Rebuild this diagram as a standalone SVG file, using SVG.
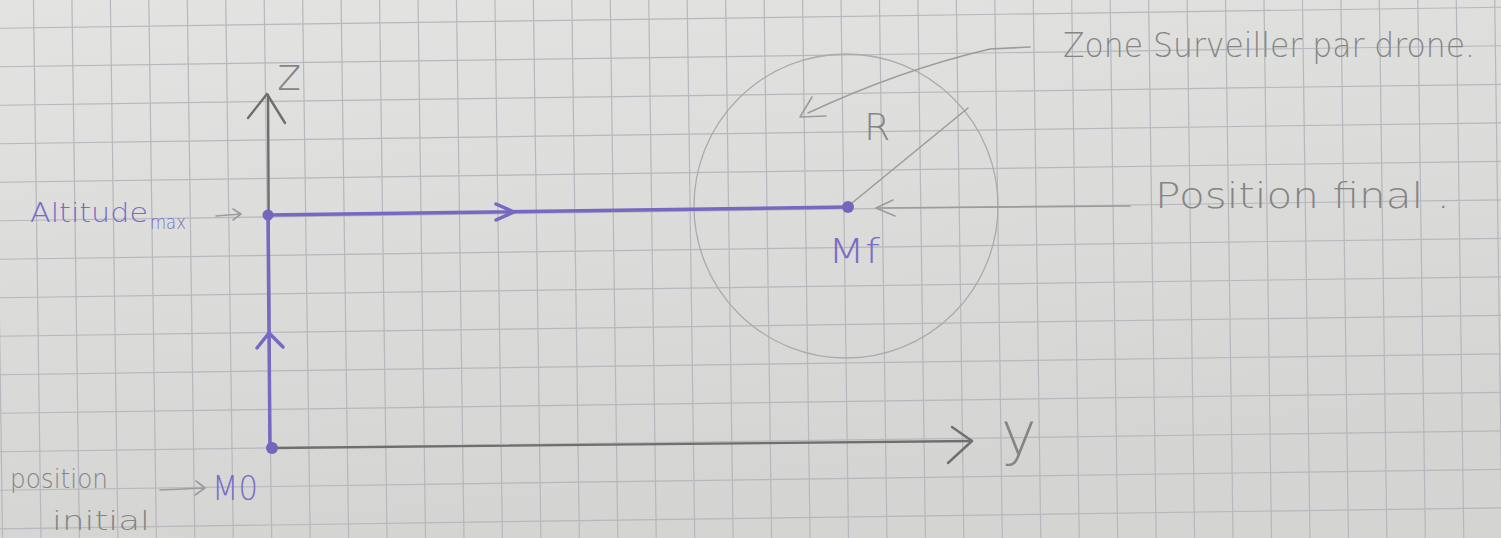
<svg xmlns="http://www.w3.org/2000/svg" width="1501" height="538" viewBox="0 0 1501 538">
<style>
.grid line{stroke:#b7b7bd;stroke-width:1.2}
.pencil{fill:none;stroke:#6f6f6f;stroke-width:2.4;stroke-linecap:round;stroke-linejoin:round}
.light{fill:none;stroke:#9c9c9c;stroke-width:1.6;stroke-linecap:round;stroke-linejoin:round}
.ink{fill:none;stroke:#7868c2;stroke-width:3.5;stroke-linecap:round;stroke-linejoin:round}
.dot{fill:#7466bd}
.tg{font-family:"DejaVu Sans","Liberation Sans",sans-serif;fill:#858585;font-weight:300}
.tp{font-family:"DejaVu Sans","Liberation Sans",sans-serif;fill:#7a6cc6;font-weight:300}
</style>
<defs>
<linearGradient id="paper" x1="0" y1="0" x2="0.3" y2="1">
<stop offset="0" stop-color="#e3e3e1"/>
<stop offset="1" stop-color="#d4d4d2"/>
</linearGradient>
</defs>
<rect width="1501" height="538" fill="url(#paper)"/>
<g class="grid" transform="rotate(-0.8 270 448)">
<line x1="1.3" y1="-60" x2="1.3" y2="600"/><line x1="39.75" y1="-60" x2="39.75" y2="600"/><line x1="78.2" y1="-60" x2="78.2" y2="600"/><line x1="116.65" y1="-60" x2="116.65" y2="600"/><line x1="155.1" y1="-60" x2="155.1" y2="600"/><line x1="193.55" y1="-60" x2="193.55" y2="600"/><line x1="232" y1="-60" x2="232" y2="600"/><line x1="270.45" y1="-60" x2="270.45" y2="600"/><line x1="308.9" y1="-60" x2="308.9" y2="600"/><line x1="347.35" y1="-60" x2="347.35" y2="600"/><line x1="385.8" y1="-60" x2="385.8" y2="600"/><line x1="424.25" y1="-60" x2="424.25" y2="600"/><line x1="462.7" y1="-60" x2="462.7" y2="600"/><line x1="501.15" y1="-60" x2="501.15" y2="600"/><line x1="539.6" y1="-60" x2="539.6" y2="600"/><line x1="578.05" y1="-60" x2="578.05" y2="600"/><line x1="616.5" y1="-60" x2="616.5" y2="600"/><line x1="654.95" y1="-60" x2="654.95" y2="600"/><line x1="693.4" y1="-60" x2="693.4" y2="600"/><line x1="731.85" y1="-60" x2="731.85" y2="600"/><line x1="770.3" y1="-60" x2="770.3" y2="600"/><line x1="808.75" y1="-60" x2="808.75" y2="600"/><line x1="847.2" y1="-60" x2="847.2" y2="600"/><line x1="885.65" y1="-60" x2="885.65" y2="600"/><line x1="924.1" y1="-60" x2="924.1" y2="600"/><line x1="962.55" y1="-60" x2="962.55" y2="600"/><line x1="1001" y1="-60" x2="1001" y2="600"/><line x1="1039.45" y1="-60" x2="1039.45" y2="600"/><line x1="1077.9" y1="-60" x2="1077.9" y2="600"/><line x1="1116.35" y1="-60" x2="1116.35" y2="600"/><line x1="1154.8" y1="-60" x2="1154.8" y2="600"/><line x1="1193.25" y1="-60" x2="1193.25" y2="600"/><line x1="1231.7" y1="-60" x2="1231.7" y2="600"/><line x1="1270.15" y1="-60" x2="1270.15" y2="600"/><line x1="1308.6" y1="-60" x2="1308.6" y2="600"/><line x1="1347.05" y1="-60" x2="1347.05" y2="600"/><line x1="1385.5" y1="-60" x2="1385.5" y2="600"/><line x1="1423.95" y1="-60" x2="1423.95" y2="600"/><line x1="1462.4" y1="-60" x2="1462.4" y2="600"/><line x1="1500.85" y1="-60" x2="1500.85" y2="600"/><line x1="1539.3" y1="-60" x2="1539.3" y2="600"/>
<line x1="-60" y1="-14" x2="1570" y2="-14"/><line x1="-60" y1="24.5" x2="1570" y2="24.5"/><line x1="-60" y1="63" x2="1570" y2="63"/><line x1="-60" y1="101.5" x2="1570" y2="101.5"/><line x1="-60" y1="140" x2="1570" y2="140"/><line x1="-60" y1="178.5" x2="1570" y2="178.5"/><line x1="-60" y1="217" x2="1570" y2="217"/><line x1="-60" y1="255.5" x2="1570" y2="255.5"/><line x1="-60" y1="294" x2="1570" y2="294"/><line x1="-60" y1="332.5" x2="1570" y2="332.5"/><line x1="-60" y1="371" x2="1570" y2="371"/><line x1="-60" y1="409.5" x2="1570" y2="409.5"/><line x1="-60" y1="448" x2="1570" y2="448"/><line x1="-60" y1="486.5" x2="1570" y2="486.5"/><line x1="-60" y1="525" x2="1570" y2="525"/><line x1="-60" y1="563.5" x2="1570" y2="563.5"/>
</g>
<g id="zone-circle">
<circle cx="846" cy="206" r="152" fill="none" stroke="#ababab" stroke-width="1.3"/>
</g>
<g id="connectors">
<path class="pencil" d="M270 448 L268 95"/>
<path class="pencil" d="M248 118 L267 94 L285 123"/>
<path class="pencil" d="M272 448 L972 441"/>
<path class="pencil" d="M952 427 L972 441 L948 463"/>
<path class="ink" d="M270 448 L268 215"/>
<path class="ink" stroke-width="3" d="M257 348 L269 333 L283 347"/>
<path class="ink" d="M268 215 L848 207"/>
<path class="ink" stroke-width="3" d="M496 204 L514 212 L496 220"/>
<path class="light" d="M852 203 L968 108"/>
<path class="light" d="M1030 47 L990 49 Q900 70 808 113"/>
<path class="light" d="M812 97 L800 117 L826 116"/>
<path class="light" d="M1130 206 L876 208"/>
<path class="light" d="M893 200 L876 208 L895 216"/>
<path class="light" stroke="#8080a0" d="M216 216 L241 214 M233 209 L241 214 L233 220"/>
<path class="light" stroke="#808080" d="M160 490 L205 488 M196 481 L205 488 L195 495"/>
</g>
<g id="axis-z"><text class="tg" x="277" y="90" font-size="46" fill="#7c7c7c">z</text></g>
<g id="axis-y"><text class="tg" x="1001" y="455" font-size="60" fill="#777">y</text></g>
<g id="node-altitude-max">
<circle class="dot" cx="268" cy="215" r="5.5"/>
<text class="tp" x="30" y="222" font-size="27" textLength="118" lengthAdjust="spacingAndGlyphs">Altitude</text>
<text class="tp" x="150" y="229" font-size="19" textLength="36" lengthAdjust="spacingAndGlyphs">max</text>
</g>
<g id="node-M0">
<circle class="dot" cx="272" cy="448" r="6"/>
<text class="tp" x="212" y="500" font-size="34" textLength="46" lengthAdjust="spacingAndGlyphs">M0</text>
<text class="tg" x="10" y="488" font-size="26" textLength="98" lengthAdjust="spacingAndGlyphs">position</text>
<text class="tg" x="52" y="530" font-size="26" textLength="98" lengthAdjust="spacingAndGlyphs">initial</text>
</g>
<g id="node-Mf">
<circle class="dot" cx="848" cy="207" r="6"/>
<text class="tp" x="828" y="263" font-size="34" textLength="52" lengthAdjust="spacingAndGlyphs">Mf</text>
<text class="tg" x="864" y="140" font-size="38" fill="#9c9c9c">R</text>
</g>
<g id="label-zone">
<text class="tg" x="1063" y="57" font-size="34" textLength="412" lengthAdjust="spacingAndGlyphs">Zone Surveiller par drone.</text>
</g>
<g id="label-position-final">
<text class="tg" x="1155" y="208" font-size="36" textLength="295" lengthAdjust="spacingAndGlyphs">Position final .</text>
</g>
</svg>
